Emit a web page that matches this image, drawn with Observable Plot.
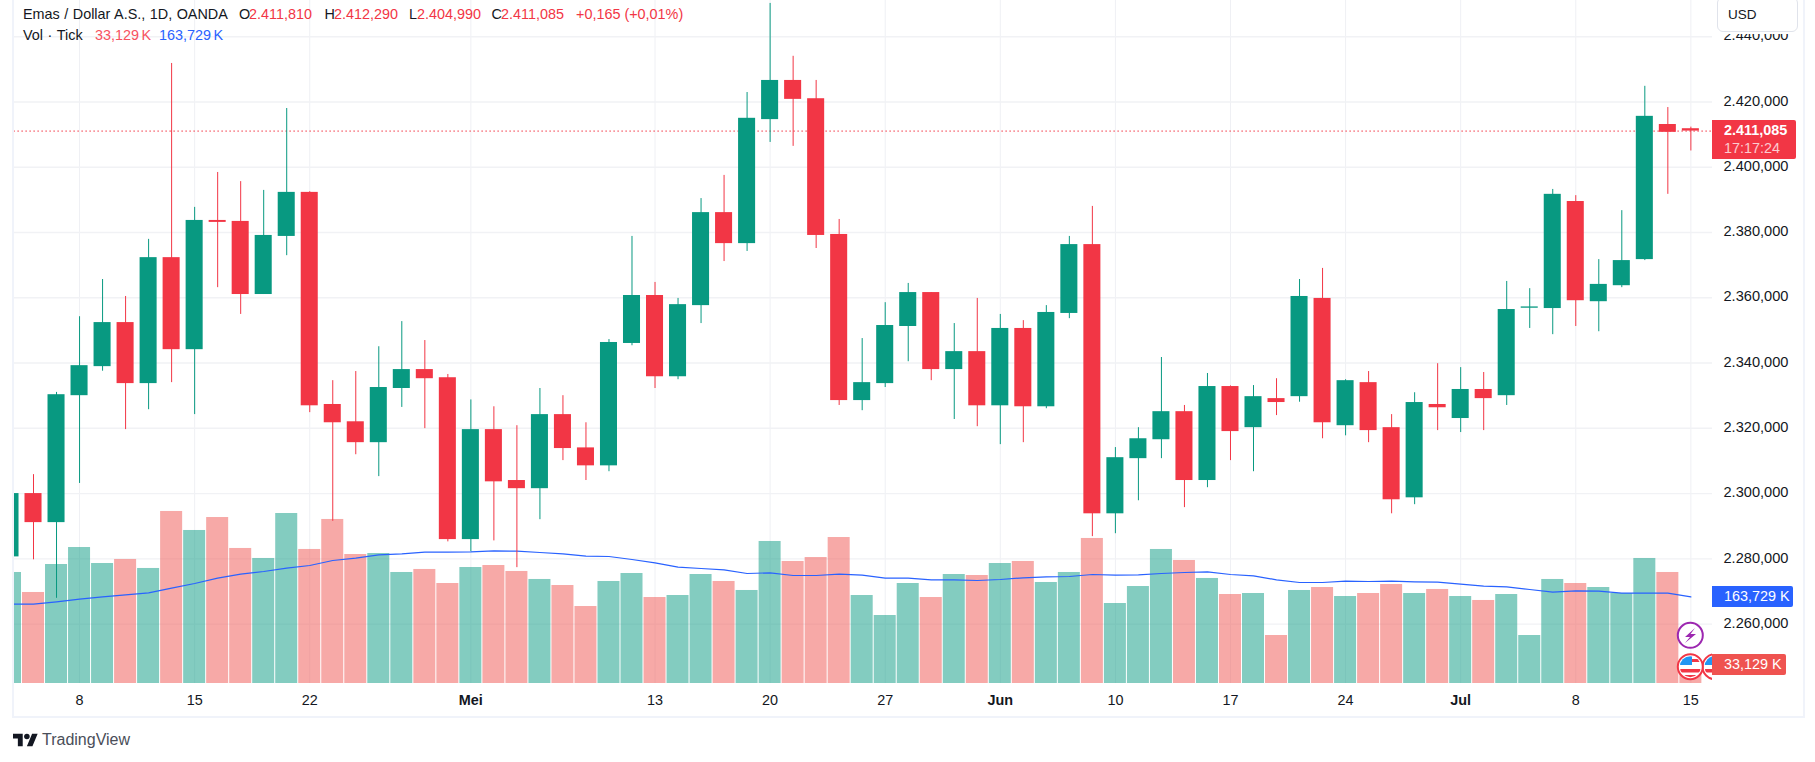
<!DOCTYPE html>
<html lang="id">
<head>
<meta charset="utf-8">
<script src="https://cdn.jsdelivr.net/npm/d3@7"></script>
<script src="https://cdn.jsdelivr.net/npm/@observablehq/plot@0.6"></script>
<style>
html,body{margin:0;padding:0;background:#fff;}
#wrap{position:relative;width:1815px;height:762px;overflow:hidden;font-family:"Liberation Sans",sans-serif;color:#131722;}
#wrap svg.chart{position:absolute;left:0;top:0;}
.t{position:absolute;white-space:nowrap;font-size:14.4px;line-height:18px;}
.tag{position:absolute;left:1712px;color:#fff;border-radius:0 2px 2px 0;}
</style>
</head>
<body>
<div id="wrap"></div>
<script>
// Trading days, 3 Apr – 15 Jul 2024 (index = position on the axis)
const opens = [2280.6,2300,2291.1,2330,2338.9,2352.4,2333.7,2372.3,2344.1,2383.7,2383.4,2361,2378.8,2392.3,2327.3,2322,2315.6,2332.2,2338,2335.5,2285.9,2319.6,2304,2301.5,2324.2,2314,2308.5,2346,2360.7,2335.8,2357.6,2386.1,2376.6,2414.6,2426.6,2421,2379.4,2328.5,2333.7,2351.2,2361.6,2338,2343.5,2326.9,2350.6,2326.6,2355.2,2376.3,2293.8,2310.7,2316.5,2325.1,2304,2332.8,2320.2,2329.1,2329.7,2359.8,2320.8,2334,2320.2,2298.7,2327.3,2323,2331.9,2330,2356.8,2356.7,2389.5,2358.8,2363.7,2371.7,2413.1,2411.81];
const closes = [2300,2291.1,2330.3,2339.2,2352.4,2333.7,2372.3,2344.1,2383.7,2383.1,2361,2379.1,2392.3,2326.9,2321.7,2315.6,2332.5,2338,2335.2,2285.9,2319.6,2303.6,2301.5,2324.2,2313.8,2308.5,2346.3,2360.7,2335.8,2357.9,2386.1,2376.6,2415,2426.6,2420.8,2379.1,2328.5,2334,2351.5,2361.6,2338,2343.5,2326.9,2350.6,2326.6,2355.5,2376.3,2293.8,2311,2316.8,2325.1,2304,2332.8,2319,2329.7,2327.9,2360.4,2321.7,2334.6,2319.3,2298.1,2327.9,2326.3,2331.9,2329.1,2356.4,2357.2,2391.7,2359.1,2364.1,2371.4,2415.6,2410.7,2411.085];
const highs = [2305,2305.8,2331,2354.2,2365.6,2360.4,2377.9,2431.8,2387.7,2398.4,2395.6,2392.9,2418,2392.5,2334.6,2337.4,2345,2352.7,2346.9,2336.5,2328.7,2326.6,2320.8,2332.2,2330,2321.7,2347.2,2378.8,2364.7,2359.8,2390.4,2397.5,2422.9,2450.2,2434,2426.6,2384,2347.5,2358.5,2364.4,2361.6,2352.1,2359.8,2354.9,2353,2357.6,2378.8,2388,2314.1,2320.2,2341.7,2327,2336.8,2333,2333.1,2335.2,2365.6,2369,2334.9,2337.4,2324.2,2330.9,2339.8,2338.6,2337.1,2365,2362.8,2393.2,2391.3,2371.7,2386.7,2424.8,2418.3,2412.29];
const lows = [2272,2279.7,2267.9,2303.1,2337.5,2319.6,2325.7,2334,2324.2,2363.1,2354.9,2361,2372.9,2324.8,2291.5,2311.9,2305.2,2326.4,2319.9,2285.2,2282.2,2285.5,2277.3,2292,2310.1,2304,2306.7,2345.3,2332.2,2334.9,2352.1,2371.1,2374.2,2407.6,2406.4,2375.1,2327,2325.4,2332.5,2340.4,2334.6,2322.7,2320.5,2315,2315.6,2326,2353.6,2286.8,2287.7,2297.8,2310.7,2295.7,2301.8,2310.1,2306.7,2323.9,2328,2316.8,2317.7,2315.6,2293.8,2296.6,2319.3,2318.7,2319.3,2327,2350.6,2348.7,2351.2,2349.6,2363.1,2371.4,2391.7,2404.99];
const volumes = [209.8,172,224.9,257,226.8,234.4,217.4,325.1,289.2,313.7,255.2,236.3,321.3,253.3,310,243.8,245.7,209.8,215.5,189,219.2,223,211.7,196.6,185.2,145.5,192.8,207.9,162.5,166.3,206,192.8,175.8,268.4,230.6,238.1,275.9,166.3,128.5,189,162.5,206,204.1,226.8,230.6,190.9,209.8,274.1,151.2,183.3,253.3,232.5,198.5,168.2,170.1,90.7,175.8,181.4,164.4,170.1,187.1,170.1,177.7,164.4,156.9,168.2,90.7,196.6,189,181.4,170.1,236.3,209.8,33.129];
const volumeMA = [149.9,149.9,154.4,159.4,163.8,167.6,171.4,180.2,189,199.1,206.6,211.7,218,223,232.5,236.9,243.2,245.1,248.2,248.2,248.9,250.7,250.1,247.6,245.1,240.7,240,234.4,228.1,219.9,217.4,214.8,207.9,209.2,204.1,204.1,206.6,204.8,199.1,199.1,195.9,195.9,194.7,196.6,199.7,201.6,202.2,206,204.8,205.4,207.9,209.8,211.1,206,203.5,195.9,190.9,190.9,193.4,192.8,193.4,192.2,191.5,187.7,184,182.7,177.7,172.6,175.1,174.5,170.7,170.7,170.7,163.729];

const priceTicks = [2260,2280,2300,2320,2340,2360,2380,2400,2420,2440];
const dayTickIdx = [3,8,13,28,33,38,48,53,58,68,73];
const dayTickLabels = ["8","15","22","13","20","27","10","17","24","8","15"];
const monthTickIdx = [20,43,63];
const monthTickLabels = ["Mei","Jun","Jul"];
const lastPrice = 2411.085;

const GREEN = "#089981", RED = "#f23645";
const priceDomain = [2241.8, 2451.1];
// Second (volume) axis, as thousands of ticks, laid over the price axis
const volToPrice = d3.scaleLinear([0, 1290.87], priceDomain);

const candles = opens.map((o, i) => ({
  i, o, c: closes[i], h: highs[i], l: lows[i], v: volumes[i], ma: volumeMA[i],
  col: closes[i] >= o ? GREEN : RED
}));

const priceFmt = d => "2." + (d - 2000) + ",000";
const labelOf = (idx, labels) => d => labels[idx.indexOf(d)];

const chart = Plot.plot({
  width: 1815, height: 762,
  marginLeft: 13.4, marginRight: 103, marginTop: 0, marginBottom: 79,
  x: {domain: [0.148, 73.94], axis: null},
  y: {domain: priceDomain, axis: null},
  style: {fontFamily: '"Liberation Sans",sans-serif', fontSize: "14.4px", color: "#131722", background: "transparent"},
  className: "chart",
  marks: [
    Plot.ruleX([...dayTickIdx, ...monthTickIdx], {stroke: "#eff0f4", strokeWidth: 1}),
    Plot.ruleY(priceTicks, {stroke: "#f1f2f5", strokeWidth: 1.4, clip: true}),
    Plot.rect(candles, {x1: d => d.i - 0.478, x2: d => d.i + 0.478, y1: () => volToPrice(0), y2: d => volToPrice(d.v), fill: d => d.col === GREEN ? "#089981" : "#ef5350", fillOpacity: 0.5, clip: true}),
    Plot.line(candles, {x: "i", y: d => volToPrice(d.ma), stroke: "#2962ff", strokeWidth: 1.2, clip: true}),
    Plot.ruleY([lastPrice], {stroke: RED, strokeWidth: 1, strokeDasharray: "1.5,2.5"}),
    Plot.ruleX(candles, {x: "i", y1: "l", y2: "h", stroke: "col", strokeWidth: 1, clip: true}),
    Plot.rect(candles, {x1: d => d.i - 0.37, x2: d => d.i + 0.37, y1: "o", y2: "c", fill: "col", clip: true}),
    Plot.axisY(priceTicks, {anchor: "right", tickSize: 0, tickPadding: 11, dy: -1, tickFormat: priceFmt, label: null, fontSize: 14.6}),
    Plot.axisX(dayTickIdx, {anchor: "bottom", tickSize: 0, tickPadding: 11, tickFormat: labelOf(dayTickIdx, dayTickLabels), label: null, fontSize: 14.4}),
    Plot.axisX(monthTickIdx, {anchor: "bottom", tickSize: 0, tickPadding: 11, tickFormat: labelOf(monthTickIdx, monthTickLabels), label: null, fontSize: 14.4, fontWeight: 700})
  ]
});
const wrap = document.getElementById("wrap");
wrap.appendChild(chart);

function addText(x, cy, text, color, extra) {
  const s = document.createElement("span");
  s.className = "t";
  s.textContent = text;
  s.style.left = x + "px";
  s.style.top = (cy - 9) + "px";
  s.style.color = color;
  if (extra) Object.assign(s.style, extra);
  wrap.appendChild(s);
}
const DARK = "#131722";
addText(23, 14, "Emas / Dollar A.S., 1D, OANDA", DARK, {wordSpacing: "0.5px"});
addText(239, 14, "O", DARK); addText(249, 14, "2.411,810", RED);
addText(324.5, 14, "H", DARK); addText(334, 14, "2.412,290", RED);
addText(409, 14, "L", DARK); addText(417, 14, "2.404,990", RED);
addText(491.5, 14, "C", DARK); addText(501, 14, "2.411,085", RED);
addText(576, 14, "+0,165 (+0,01%)", RED);
addText(23, 35, "Vol · Tick", DARK, {wordSpacing: "0.6px"});
addText(95, 35, "33,129 K", "#f7525f", {wordSpacing: "-1.5px"});
addText(159, 35, "163,729 K", "#2962ff", {wordSpacing: "-1.5px"});

// Frame, overlays
const overlay = document.createElement("div");
overlay.innerHTML = `
<div style="position:absolute;left:12px;top:-4px;width:1789px;height:720px;border:2px solid #f0f3fa;border-top:none;box-sizing:content-box;"></div>
<div style="position:absolute;left:1713px;top:0;width:88px;height:33.5px;background:#fff;"></div>
<div style="position:absolute;left:1717px;top:-3px;width:79px;height:33px;border:1.5px solid #e0e3eb;border-radius:6px;background:#fff;"></div>
<div class="t" style="left:1728px;top:6px;font-size:13.5px;">USD</div>
<div class="tag" style="top:120px;width:84px;height:39px;background:${RED};"></div>
<div class="t" style="left:1724px;top:121px;color:#fff;font-weight:700;">2.411,085</div>
<div class="t" style="left:1724px;top:139px;color:rgba(255,255,255,.75);">17:17:24</div>
<div class="tag" style="top:586px;width:81px;height:21px;background:#2962ff;"></div>
<div class="t" style="left:1724px;top:587px;color:#fff;">163,729 K</div>
<svg style="position:absolute;left:1670px;top:618px;" width="42" height="65" viewBox="0 0 42 65">
  <defs>
    <clipPath id="f1"><circle cx="20.3" cy="48.7" r="10.5"/></clipPath>
    <clipPath id="f2"><circle cx="45" cy="48.7" r="10.5"/></clipPath>
  </defs>
  <circle cx="20.3" cy="17.3" r="12.5" fill="#fff" stroke="#9c27b0" stroke-width="2"/>
  <path d="M25 10 L15 19 L20 19 L15 25 L26 16 L20.5 16 Z" fill="#9c27b0"/>
  <circle cx="45" cy="48.7" r="12.5" fill="#fff" stroke="#f23645" stroke-width="2"/>
  <g clip-path="url(#f2)"><rect x="34" y="38" width="8" height="9" fill="#2196f3"/><rect x="34" y="51" width="22" height="3.5" fill="#f23645"/></g>
  <circle cx="20.3" cy="48.7" r="12.5" fill="#fff" stroke="#f23645" stroke-width="2"/>
  <g clip-path="url(#f1)">
    <rect x="9" y="38" width="13" height="9" fill="#2196f3"/>
    <rect x="22" y="41" width="10" height="3" fill="#f23645"/>
    <rect x="9" y="51" width="23" height="3.5" fill="#f23645"/>
    <rect x="9" y="57" width="23" height="3" fill="#f23645"/>
  </g>
</svg>
<div class="tag" style="top:654px;width:74px;height:21px;background:#ef5350;"></div>
<div class="t" style="left:1724px;top:655px;color:#fff;">33,129 K</div>
<svg style="position:absolute;left:13px;top:733px;" width="25" height="14" viewBox="0 4 36 18">
  <path d="M14 22H7V11H0V4h14v18zM28 22h-8l7.5-18h8L28 22z" fill="#131722"/><circle cx="20" cy="8" r="4" fill="#131722"/>
</svg>
<div class="t" style="left:42px;top:731px;color:#4a4e59;font-size:16px;">TradingView</div>`;
wrap.appendChild(overlay);
</script>
</body>
</html>
